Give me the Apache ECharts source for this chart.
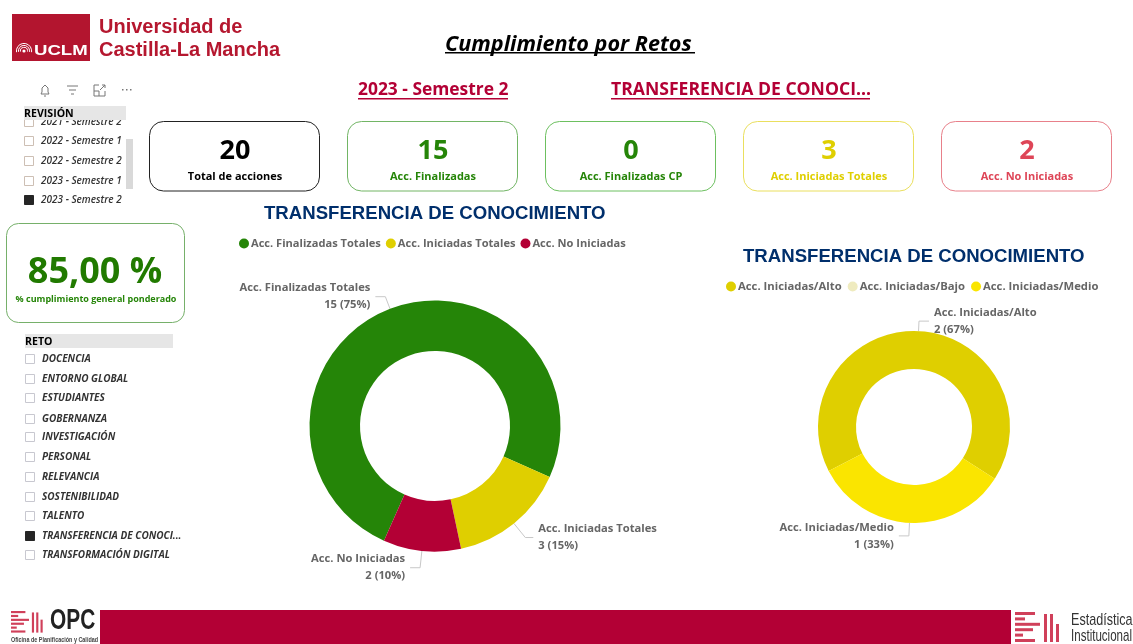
<!DOCTYPE html>
<html>
<head>
<meta charset="utf-8">
<title>Cumplimiento por Retos</title>
<script src="https://cdn.jsdelivr.net/npm/echarts@6/dist/echarts.min.js"></script>
<style>
  html, body { margin: 0; padding: 0; background: #fff; }
  #chartContainer { width: 1133px; height: 644px; }
</style>
</head>
<body>
<div id="chartContainer"></div>
<script>
const tituloPagina = 'Cumplimiento por Retos';
const revisionActual = '2023 - Semestre 2';
const retoActual = 'TRANSFERENCIA DE CONOCI...';
const tituloGrafico = 'TRANSFERENCIA DE CONOCIMIENTO';

const tarjetaValores = [20, 15, 0, 3, 2];
const tarjetaNombres = ['Total de acciones', 'Acc. Finalizadas', 'Acc. Finalizadas CP', 'Acc. Iniciadas Totales', 'Acc. No Iniciadas'];
const cumplimiento = '85,00 %';
const cumplimientoNombre = '% cumplimiento general ponderado';

const revisiones = ['2021 - Semestre 2', '2022 - Semestre 1', '2022 - Semestre 2', '2023 - Semestre 1', '2023 - Semestre 2'];
const retos = ['DOCENCIA', 'ENTORNO GLOBAL', 'ESTUDIANTES', 'GOBERNANZA', 'INVESTIGACIÓN', 'PERSONAL', 'RELEVANCIA', 'SOSTENIBILIDAD', 'TALENTO', 'TRANSFERENCIA DE CONOCI...', 'TRANSFORMACIÓN DIGITAL'];

const estadoNombres = ['Acc. Finalizadas Totales', 'Acc. Iniciadas Totales', 'Acc. No Iniciadas'];
const estadoValores = [15, 3, 2];
const estadoColores = ['#258508', '#dfcf00', '#b30035'];

const nivelNombres = ['Acc. Iniciadas/Alto', 'Acc. Iniciadas/Bajo', 'Acc. Iniciadas/Medio'];
const nivelValores = [2, 0, 1];
const nivelColores = ['#dfcf00', '#efebbf', '#fae500'];

const FUENTE = '"Open Sans", "Noto Sans", sans-serif';
const ROJO = '#b30035';

let graficos = [];

function texto(t, x, y, size, color, opts) {
    opts = opts || {};
    return {
        type: 'text',
        x: x, y: y,
        scaleX: opts.scaleX || 1,
        silent: true,
        style: {
            text: t, x: 0, y: 0,
            fill: color,
            font: (opts.italic ? 'italic ' : '') + (opts.weight || 'bold') + ' ' + size + 'px ' + (opts.family || FUENTE),
            align: opts.align || 'left',
            verticalAlign: 'middle'
        }
    };
}

function caja(x, y, w, h, fill, stroke, r) {
    return {
        type: 'rect', silent: true,
        shape: { x: x, y: y, width: w, height: h, r: r || 0 },
        style: { fill: fill, stroke: stroke || null, lineWidth: stroke ? 1 : 0 }
    };
}

function linea(points, color, w) {
    return { type: 'polyline', silent: true, shape: { points: points }, style: { stroke: color, fill: null, lineWidth: w || 1 } };
}

// Cabecera y logo UCLM
graficos.push(caja(12, 14, 78, 47, '#b3152f'));
graficos.push(texto('UCLM', 34, 51, 15, '#fff', { family: '"Liberation Sans", sans-serif', scaleX: 1.24 }));
graficos.push({ type: 'circle', silent: true, shape: { cx: 24, cy: 51, r: 1.6 }, style: { fill: '#fff' } });
[3.6, 5.6, 7.6].forEach(r => {
    graficos.push({ type: 'arc', silent: true, shape: { cx: 24, cy: 51, r: r, startAngle: Math.PI * 0.95, endAngle: Math.PI * 2.05 }, style: { stroke: '#fff', fill: null, lineWidth: 1 } });
});
graficos.push(texto('Universidad de', 99, 27, 20, '#b5172f', { family: '"Liberation Sans", sans-serif' }));
graficos.push(texto('Castilla-La Mancha', 99, 50, 20, '#b5172f', { family: '"Liberation Sans", sans-serif' }));

graficos.push(texto(tituloPagina, 445, 44.5, 21.6, '#000', { italic: true }));
graficos.push(caja(445, 52, 250, 1.5, '#000'));
graficos.push(texto(revisionActual, 358, 90, 17.4, ROJO));
graficos.push(caja(358, 98, 150, 1.5, ROJO));
graficos.push(texto(retoActual, 611, 90, 17.6, ROJO));
graficos.push(caja(611, 98, 259, 1.5, ROJO));

// Iconos de la barra del visual
const gris = '#777';
graficos.push(linea([[41, 94], [42, 92], [42, 88], [45, 85], [48, 88], [48, 92], [49, 94], [41, 94]], gris));
graficos.push(linea([[44, 96], [46, 96]], gris));
graficos.push(linea([[67, 86], [78, 86]], gris));
graficos.push(linea([[69, 90], [76, 90]], gris));
graficos.push(linea([[71, 94], [74, 94]], gris));
graficos.push(linea([[99, 85], [94, 85], [94, 96], [105, 96], [105, 91]], gris));
graficos.push(linea([[100, 90], [105, 85]], gris));
graficos.push(linea([[102, 85], [105, 85], [105, 88]], gris));
graficos.push(linea([[94, 91], [99, 91], [99, 96]], gris));
[122, 126, 130].forEach(x => graficos.push(caja(x, 89, 1.5, 1.5, gris)));

// Tarjetas
const tarjetaX = [149, 347, 545, 743, 941];
const tarjetaBorde = ['#222', '#72b565', '#6dc060', '#eadf5e', '#e8808a'];
const tarjetaColor = ['#000', '#258508', '#258508', '#dfcf00', '#de4557'];
tarjetaValores.forEach((v, i) => {
    const cx = tarjetaX[i] + 86;
    graficos.push(caja(tarjetaX[i] + 0.5, 121.5, 170, 69.5, '#fff', tarjetaBorde[i], 14));
    graficos.push(texto(String(v), cx, 151, 27, tarjetaColor[i], { align: 'center' }));
    graficos.push(texto(tarjetaNombres[i], cx, 176.5, 11, tarjetaColor[i], { align: 'center' }));
});

// Tarjeta de cumplimiento
graficos.push(caja(6.5, 223.5, 178, 99, '#fff', '#76b06a', 12));
graficos.push(texto(cumplimiento, 95, 273, 36, '#217a00', { align: 'center' }));
graficos.push(texto(cumplimientoNombre, 96, 299, 9, '#258508', { align: 'center' }));

// Segmentacion REVISION
const revisionY = [122, 141, 161, 181, 200];
revisiones.forEach((r, i) => {
    const marcado = r === revisionActual;
    graficos.push(caja(24.5, revisionY[i] - 4.5, 9, 9, marcado ? '#252525' : '#fff', marcado ? '#252525' : '#cdbfb4'));
    graficos.push(texto(r, 41, revisionY[i] + 0.5, 10, '#333', { italic: true, weight: '600' }));
});
graficos.push(caja(24, 106, 102, 14, '#e6e6e6'));
graficos.push(texto('REVISIÓN', 24, 113.5, 10.6, '#000'));
graficos.push(caja(126, 139, 7, 50, '#d9d9d9'));

// Segmentacion RETO
const retoY = [359, 379, 398, 419, 437, 457, 477, 497, 516, 536, 555];
graficos.push(caja(25, 334, 148, 14, '#e6e6e6'));
graficos.push(texto('RETO', 25, 341.5, 10.6, '#000'));
retos.forEach((r, i) => {
    const marcado = r === retoActual;
    graficos.push(caja(25.5, retoY[i] - 4.5, 9, 9, marcado ? '#252525' : '#fff', marcado ? '#252525' : '#c8c8d0'));
    graficos.push(texto(r, 42, retoY[i] + 0.5, 10, '#333', { italic: true, weight: 'bold' }));
});

// Pie de pagina
graficos.push(caja(100, 610, 911, 34, ROJO));
function logoBarras(x0, y0, k) {
    const filas = [20, 10, 25, 18, 8, 20];
    filas.forEach((w, i) => graficos.push(caja(x0, y0 + i * 5.4 * k, w * k, 3 * k, '#d0405a')));
    const columnas = [28, 28, 18];
    columnas.forEach((h, i) => graficos.push(caja(x0 + (29 + i * 6) * k, y0 + (30 - h) * k, 3 * k, h * k, '#d0405a')));
}
logoBarras(11, 611, 0.72);
graficos.push(texto('OPC', 50, 621, 29, '#222', { family: '"Liberation Sans", sans-serif', scaleX: 0.72 }));
graficos.push(texto('Oficina de Planificación y Calidad', 11, 640, 8, '#444', { family: '"Liberation Sans", sans-serif', scaleX: 0.68 }));
logoBarras(1015, 612, 1);
graficos.push(texto('Estadística', 1071, 620, 17, '#333', { family: '"Liberation Sans", sans-serif', weight: 'normal', scaleX: 0.74 }));
graficos.push(texto('Institucional', 1071, 636, 17, '#333', { family: '"Liberation Sans", sans-serif', weight: 'normal', scaleX: 0.68 }));

function serieAnillo(nombres, valores, colores, centro, radio, inicio, longitudes) {
    return {
        type: 'pie',
        center: centro,
        radius: radio,
        startAngle: inicio,
        clockwise: true,
        silent: true,
        animation: false,
        avoidLabelOverlap: false,
        stillShowZeroSum: false,
        data: nombres.map((n, i) => ({
            name: n,
            value: valores[i],
            itemStyle: { color: colores[i] },
            label: { show: valores[i] > 0 },
            labelLine: Object.assign({ show: valores[i] > 0 }, longitudes[i] ? { length: longitudes[i][0], length2: longitudes[i][1] } : {})
        })),
        label: {
            position: 'outside',
            formatter: p => p.name + '\n' + p.value + ' (' + Math.round(p.percent) + '%)',
            fontFamily: FUENTE,
            fontWeight: 'bold',
            fontSize: 11.2,
            lineHeight: 17,
            color: '#666'
        },
        labelLine: { minTurnAngle: 0, lineStyle: { color: '#c8c8c8', width: 1 } }
    };
}

function leyenda(nombres, left, top, size, gap) {
    return {
        left: left, top: top,
        data: nombres,
        icon: 'circle',
        itemWidth: 10, itemHeight: 10, itemGap: gap,
        selectedMode: false,
        padding: 0,
        textStyle: { fontFamily: FUENTE, fontWeight: 'bold', fontSize: size, color: '#666', padding: [0, 0, 0, -3] }
    };
}

let chartDom = document.getElementById('chartContainer');
let myChart = echarts.init(chartDom);

let option = {
    backgroundColor: '#fff',
    animation: false,
    title: [
        { text: tituloGrafico, left: 264, top: 204, padding: 0, textStyle: { fontFamily: '"Liberation Sans", sans-serif', fontWeight: 'bold', fontSize: 18.6, color: '#002f6c' } },
        { text: tituloGrafico, left: 743, top: 247, padding: 0, textStyle: { fontFamily: '"Liberation Sans", sans-serif', fontWeight: 'bold', fontSize: 18.6, color: '#002f6c' } }
    ],
    legend: [leyenda(estadoNombres, 239, 238, 11.1, 5), leyenda(nivelNombres, 726, 281, 11.3, 6)],
    series: [
        serieAnillo(estadoNombres, estadoValores, estadoColores, [435, 426], [75, 125.5], 246, [[13, 10], [18, 8], [17, 10]]),
        serieAnillo(nivelNombres, nivelValores, nivelColores, [914, 427], [58, 96], 207.3, [[10, 10], null, [13, 10]])
    ],
    graphic: { elements: graficos }
};

myChart.setOption(option);
</script>
</body>
</html>
